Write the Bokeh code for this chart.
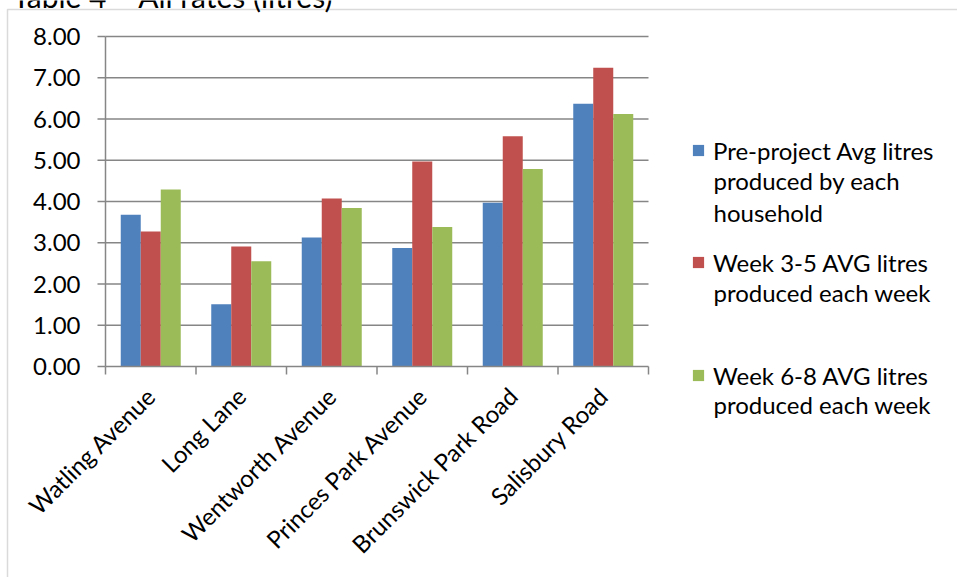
from math import pi
from bokeh.plotting import figure
from bokeh.models import (ColumnDataSource, Range1d, Label, Legend, LegendItem, BoxAnnotation)
from bokeh.transform import dodge
from bokeh.core.properties import value
from bokeh.embed import file_html
from bokeh.resources import INLINE

# ---------------- data ----------------
categories = ["Watling Avenue", "Long Lane", "Wentworth Avenue",
              "Princes Park Avenue", "Brunswick Park Road", "Salisbury Road"]
pre_project = [3.68, 1.51, 3.13, 2.87, 3.97, 6.37]
week_3_5 = [3.27, 2.91, 4.07, 4.97, 5.58, 7.24]
week_6_8 = [4.29, 2.55, 3.84, 3.38, 4.79, 6.12]
series_keys = ["pre", "w35", "w68"]
series_colors = ["#4F81BD", "#C0504D", "#9BBB59"]
legend_lines = [["Pre-project Avg litres", "produced by each", "household"],
                ["Week 3-5 AVG litres", "produced each week"],
                ["Week 6-8 AVG litres", "produced each week"]]
y_ticks = [0, 1, 2, 3, 4, 5, 6, 7, 8]
title_text = "Table 4 \u2013 All rates (litres)"

# ---------------- layout / style ----------------
FONT = "Lato"
FS = "24px"
GRID = "#868686"
W, H = 957, 577
PLOT_L, PLOT_T, PLOT_W, PLOT_H = 105, 36, 543, 330   # plot area in pixels
n = len(categories)
y_max = y_ticks[-1]
ppx = PLOT_W / n
ppy = PLOT_H / y_max
x_range = Range1d(-PLOT_L / ppx, n + (W - PLOT_L - PLOT_W) / ppx)
y_range = Range1d(-(H - PLOT_T - PLOT_H) / ppy, y_max + PLOT_T / ppy)


def sy(py):  # pixel row from top -> screen y (from bottom)
    return H - py


src = ColumnDataSource(dict(
    x=[i + 0.5 for i in range(n)],
    pre=pre_project, w35=week_3_5, w68=week_6_8,
))

p = figure(width=W, height=H, x_range=x_range, y_range=y_range,
           x_axis_location=None, y_axis_location=None,
           output_backend="svg", toolbar_location=None, min_border=0)
p.outline_line_color = None
p.grid.visible = False
p.background_fill_color = "white"
p.border_fill_color = "white"

# gridlines
grid_y = y_ticks[1:]
p.segment(x0=[0] * len(grid_y), x1=[n] * len(grid_y), y0=grid_y, y1=grid_y,
          line_color=GRID, line_width=1.5)

# bars
bar_w = 0.221
renderers = []
for k, (key, col) in enumerate(zip(series_keys, series_colors)):
    r = p.vbar(x=dodge("x", (k - 1) * bar_w, range=p.x_range), top=key, width=bar_w,
               bottom=0, source=src, fill_color=col, line_color=None)
    renderers.append(r)

# axis lines
p.segment(x0=[0, 0], y0=[0, 0], x1=[0, n], y1=[y_max, 0], line_color=GRID, line_width=1.5)
# ticks
p.ray(x=[0] * len(y_ticks), y=y_ticks, length=8, length_units="screen", angle=pi,
      line_color=GRID, line_width=1.5)
p.ray(x=list(range(n + 1)), y=[0] * (n + 1), length=8, length_units="screen", angle=-pi / 2,
      line_color=GRID, line_width=1.5)
# tick labels
p.text(x=[0] * len(y_ticks), y=y_ticks, text=[f"{t:.2f}" for t in y_ticks],
       x_offset=-25, text_align="right", text_baseline="middle",
       text_font=value(FONT), text_font_size=FS, text_color="black")
p.text(x=[i + 0.5 for i in range(n)], y=[0] * n, text=categories, angle=pi / 4,
       x_offset=0, y_offset=25, text_align="right", text_baseline="alphabetic",
       text_font=value(FONT), text_font_size=FS, text_color="black")

# outer chart border (left and top edges)
p.add_layout(BoxAnnotation(left=7, right=W + 20, top=sy(9), bottom=-20,
                           left_units="screen", right_units="screen",
                           top_units="screen", bottom_units="screen",
                           fill_alpha=0, line_color=GRID, line_width=1.5))

# title (partly cut off at the top edge, as in the source picture)
p.add_layout(Label(x=12, y=sy(-5), x_units="screen", y_units="screen", text=title_text,
                   text_font=FONT, text_font_size="30px", text_color="black",
                   text_baseline="alphabetic", text_align="left"))

# legend
sq_centers = [150, 262, 375]
line_baselines = [[180, 212], [292], [404]]
for r, cy, lines, bls in zip(renderers, sq_centers, legend_lines, line_baselines):
    lg = Legend(items=[LegendItem(label=lines[0], renderers=[r])],
                location=(691, sy(cy + 20)),
                glyph_width=14, glyph_height=14, label_height=40, label_standoff=8,
                padding=0, spacing=0, margin=0,
                label_text_font=FONT, label_text_font_size=FS, label_text_color="black",
                border_line_color=None, background_fill_alpha=0)
    p.add_layout(lg)
    for t, b in zip(lines[1:], bls):
        p.add_layout(Label(x=713, y=sy(b), x_units="screen", y_units="screen", text=t,
                           text_font=FONT, text_font_size=FS, text_color="black",
                           text_baseline="alphabetic", text_align="left"))

open("out.html", "w").write(file_html(p, INLINE))
